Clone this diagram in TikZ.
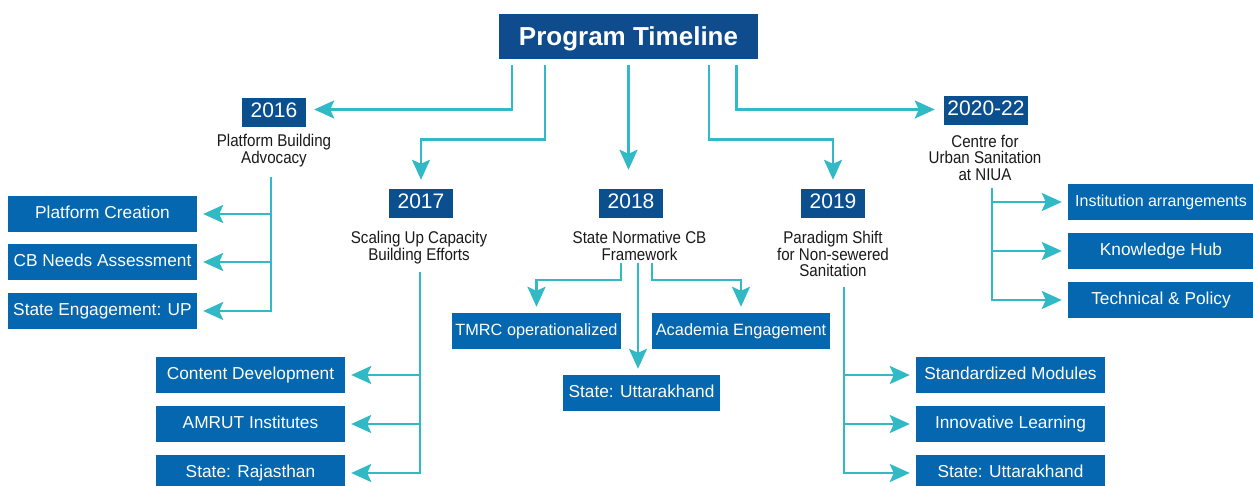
\documentclass[tikz,border=0pt]{standalone}
\usepackage{fontspec}
\setmainfont{Liberation Sans}
\newfontfamily\descfont[FakeStretch=0.89]{Liberation Sans}
\usetikzlibrary{arrows.meta,positioning,calc}

\definecolor{titleblue}{HTML}{0F4C8D}
\definecolor{yearblue}{HTML}{0B4F8F}
\definecolor{itemblue}{HTML}{0467B0}
\definecolor{linkcyan}{HTML}{31B9C6}

\tikzset{
    link/.style={draw=linkcyan, line width=2.6pt, -{Stealth[length=20pt,width=18pt,inset=4pt]}, shorten >=6pt},
    titlebox/.style={fill=titleblue, text=white, font=\fontsize{26}{30}\selectfont\bfseries,
        minimum width=259pt, minimum height=45pt, inner sep=0pt, text height=19pt, text depth=0pt},
    yearbox/.style={fill=yearblue, text=white, font=\fontsize{21}{24}\selectfont,
        minimum width=64pt, minimum height=29pt, inner xsep=3.5pt, inner ysep=0pt, text height=15pt, text depth=4pt},
    itembox/.style={fill=itemblue, text=white, font=\fontsize{17.3}{20}\selectfont,
        minimum width=189pt, minimum height=36pt, inner sep=0pt, text height=13pt, text depth=4pt},
    desc/.style={anchor=north, align=center, inner sep=0pt, text=black!90,
        font=\descfont\fontsize{17}{16.5}\selectfont},
}

\begin{document}
\begin{tikzpicture}[x=1pt, y=-1pt]
    \useasboundingbox (0,0) rectangle (1253,486);

    % Title
    \node[titlebox] (title) at (628.5,36.5) {Program Timeline};

    % Years
    \node[yearbox] (y2016) at (274,112.5) {2016};
    \node[yearbox] (y2017) at (421,203.5) {2017};
    \node[yearbox] (y2018) at (631,203.5) {2018};
    \node[yearbox] (y2019) at (833,203.5) {2019};
    \node[yearbox] (y2020) at (986,110.5) {2020-22};

    % Year descriptions
    \node[desc] (d2016) at (274,134) {Platform Building\\Advocacy};
    \node[desc] (d2017) at (419,231) {Scaling Up Capacity\\Building Efforts};
    \node[desc] (d2018) at (639.5,231) {State Normative CB\\Framework};
    \node[desc] (d2019) at (833,231) {Paradigm Shift\\for Non-sewered\\Sanitation};
    \node[desc] (d2020) at (985,135) {Centre for\\Urban Sanitation\\at NIUA};

    % Title to years
    \draw[link, shorten >=8pt] ([xshift=-116.5pt,yshift=-5.5pt]title.south) |- ([yshift=3pt]y2016.east);
    \draw[link, shorten >=9pt] ([xshift=-83.5pt,yshift=-5.5pt]title.south) -- ++(0,75) -| (y2017.north);
    \draw[link, shorten >=19pt] ([yshift=-5.5pt]title.south) -- (title.south |- y2018.north);
    \draw[link, shorten >=9pt] ([xshift=80.5pt,yshift=-5.5pt]title.south) -- ++(0,75) -| (y2019.north);
    \draw[link, shorten >=9pt] ([xshift=108pt,yshift=-5.5pt]title.south) |- ([yshift=1pt]y2020.west);

    % 2016 items
    \coordinate (b2016) at (271,177);
    \foreach \nm/\y/\lab in {pc/214/Platform Creation, cb/262/CB Needs Assessment, seup/311/State Engagement: UP} {
        \node[itembox] (\nm) at (102.5,\y) {\lab};
        \draw[link] (b2016) |- (\nm.east);
    }

    % 2017 items
    \coordinate (b2017) at (420,272);
    \foreach \nm/\y/\lab in {cd/375/Content Development, amrut/424/AMRUT Institutes, raj/473/State: Rajasthan} {
        \node[itembox] (\nm) at (250.5,\y) {\lab};
        \draw[link] (b2017) |- (\nm.east);
    }

    % 2018 items
    \node[itembox, minimum width=169pt, font=\fontsize{16.3}{19}\selectfont] (tmrc) at (536.5,331) {TMRC operationalized};
    \node[itembox, minimum width=178pt, font=\fontsize{16.4}{19}\selectfont] (acad) at (741,331) {Academia Engagement};
    \node[itembox, minimum width=157pt] (uk18) at (641.5,393) {State: Uttarakhand};
    \coordinate (s2018l) at (621,263);
    \coordinate (s2018m) at (638,263);
    \coordinate (s2018r) at (652,263);
    \draw[link] (s2018l) -- ++(0,17) -| (tmrc.north);
    \draw[link] (s2018m) -- (s2018m |- uk18.north);
    \draw[link] (s2018r) -- ++(0,17) -| (acad.north);

    % 2019 items
    \coordinate (b2019) at (844,287);
    \foreach \nm/\y/\lab in {sm/375/Standardized Modules, il/424/Innovative Learning, uk19/473/State: Uttarakhand} {
        \node[itembox] (\nm) at (1010.5,\y) {\lab};
        \draw[link] (b2019) |- (\nm.west);
    }

    % 2020-22 items
    \coordinate (b2020) at (992,188);
    \node[itembox, minimum width=186pt, font=\fontsize{16}{19}\selectfont] (ia) at (1161,202) {Institution arrangements};
    \node[itembox, minimum width=186pt] (kh) at (1161,251) {Knowledge Hub};
    \node[itembox, minimum width=186pt] (tp) at (1161,300) {Technical \& Policy};
    \foreach \nm in {ia,kh,tp}
        \draw[link] (b2020) |- (\nm.west);
\end{tikzpicture}
\end{document}
